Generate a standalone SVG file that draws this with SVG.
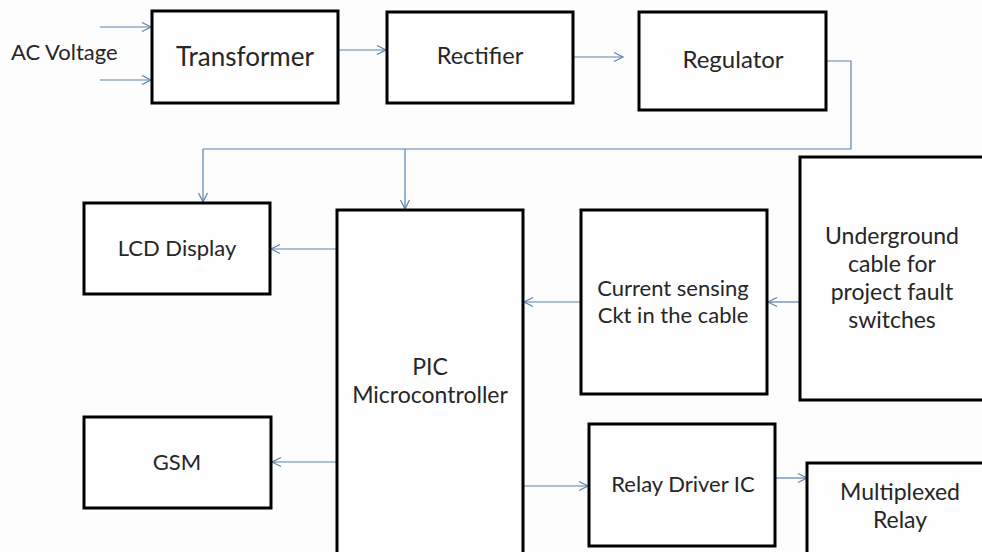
<svg xmlns="http://www.w3.org/2000/svg" width="982" height="552" viewBox="0 0 982 552">
<style>
.box{fill:#fefefe;stroke:#000;stroke-width:3}
.t{font-family:Lato,"Open Sans",sans-serif;font-size:22px;fill:#262626;text-anchor:middle}
.m{font-size:23px}
.c{fill:none;stroke:#5a82ad;stroke-width:1.2}
</style>
<defs>
<marker id="a" markerWidth="12" markerHeight="12" refX="10" refY="6" orient="auto" markerUnits="userSpaceOnUse">
<polyline points="1,1.5 10,6 1,10.5" fill="none" stroke="#5a82ad" stroke-width="1.2"/>
</marker>
</defs>
<rect width="982" height="552" fill="#fdfdfd"/>
<g id="connectors">
<line class="c" x1="100" y1="27" x2="151" y2="27" marker-end="url(#a)"/>
<line class="c" x1="100" y1="80" x2="151" y2="80" marker-end="url(#a)"/>
<line class="c" x1="338" y1="50" x2="386" y2="50" marker-end="url(#a)"/>
<line class="c" x1="573" y1="57" x2="623" y2="57" marker-end="url(#a)"/>
<polyline class="c" points="826,61 851,61 851,149 203,149"/>
<line class="c" x1="203" y1="149" x2="203" y2="202" marker-end="url(#a)"/>
<line class="c" x1="405" y1="149" x2="405" y2="209" marker-end="url(#a)"/>
<line class="c" x1="337" y1="249" x2="271" y2="249" marker-end="url(#a)"/>
<line class="c" x1="581" y1="302" x2="524" y2="302" marker-end="url(#a)"/>
<line class="c" x1="800" y1="302" x2="768" y2="302" marker-end="url(#a)"/>
<line class="c" x1="337" y1="462" x2="272" y2="462" marker-end="url(#a)"/>
<line class="c" x1="523" y1="486" x2="588" y2="486" marker-end="url(#a)"/>
<line class="c" x1="775" y1="478" x2="807" y2="478" marker-end="url(#a)"/>
</g>
<text class="t" x="11" y="60" style="text-anchor:start">AC Voltage</text>
<g id="transformer"><rect class="box" x="152" y="11" width="186" height="92"/><text class="t" x="245" y="66" style="font-size:26px">Transformer</text></g>
<g id="rectifier"><rect class="box" x="387" y="12" width="186" height="91"/><text class="t" x="480" y="64" style="font-size:23.5px">Rectifier</text></g>
<g id="regulator"><rect class="box" x="639" y="12" width="187" height="98"/><text class="t" x="733" y="68" style="font-size:24px">Regulator</text></g>
<g id="lcd"><rect class="box" x="84" y="203" width="186" height="91"/><text class="t" x="177" y="256">LCD Display</text></g>
<g id="pic"><rect class="box" x="337" y="210" width="186" height="350"/><text class="t m" x="430" y="375">PIC</text><text class="t m" x="430" y="403">Microcontroller</text></g>
<g id="current"><rect class="box" x="581" y="210" width="186" height="184"/><text class="t" x="673" y="296">Current sensing</text><text class="t" x="673" y="323">Ckt in the cable</text></g>
<g id="underground"><rect class="box" x="800" y="157" width="190" height="243"/><text class="t m" x="892" y="244">Underground</text><text class="t m" x="892" y="272">cable for</text><text class="t m" x="892" y="300">project fault</text><text class="t m" x="892" y="328">switches</text></g>
<g id="gsm"><rect class="box" x="84" y="417" width="187" height="91"/><text class="t" x="177" y="470">GSM</text></g>
<g id="relaydriver"><rect class="box" x="589" y="424" width="186" height="122"/><text class="t" x="683" y="492">Relay Driver IC</text></g>
<g id="mux"><rect class="box" x="807" y="463" width="190" height="100"/><text class="t m" x="900" y="500">Multiplexed</text><text class="t m" x="900" y="528">Relay</text></g>
</svg>
